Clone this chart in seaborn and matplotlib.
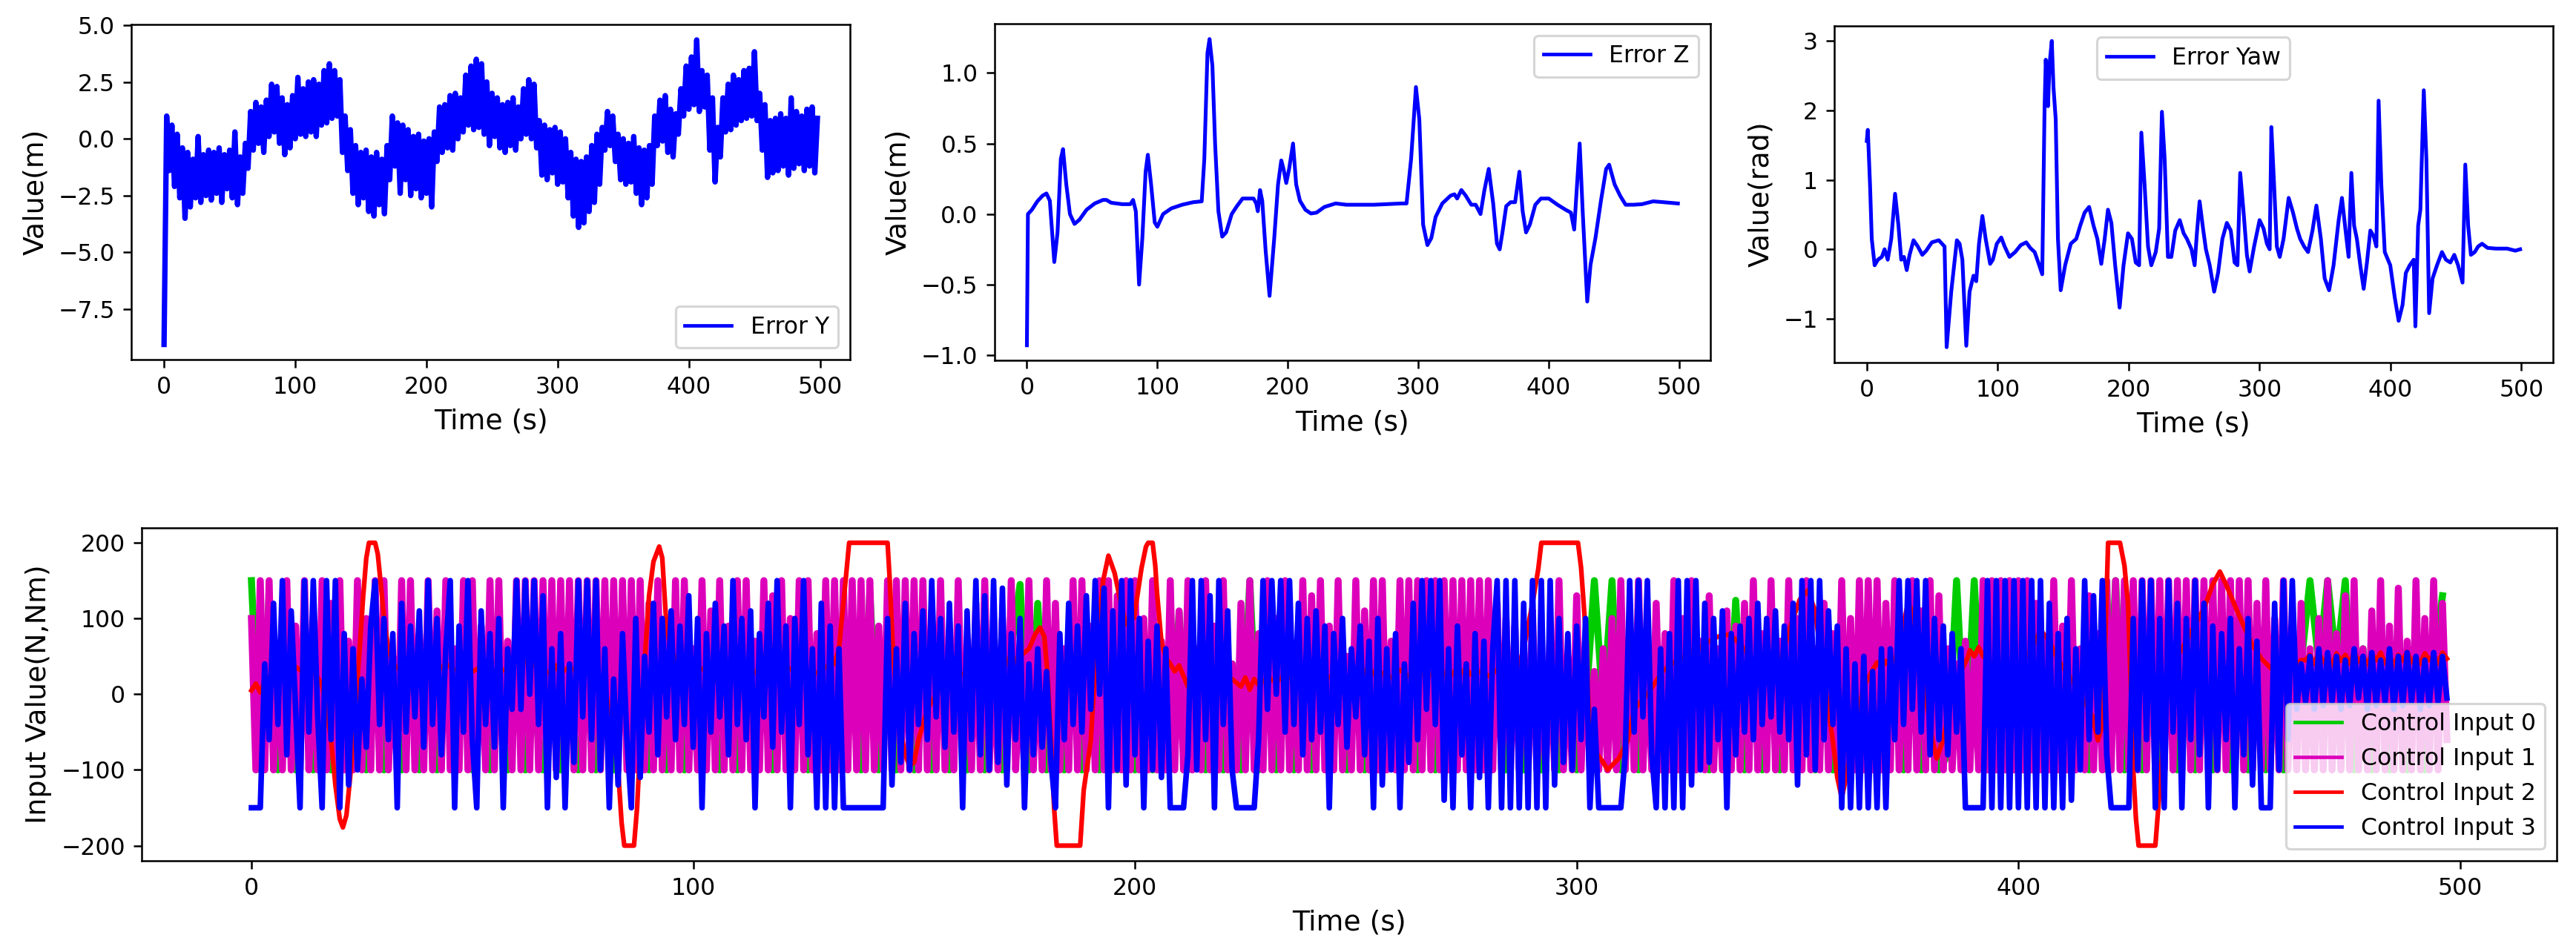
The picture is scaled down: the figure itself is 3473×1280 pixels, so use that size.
import seaborn as sns
import matplotlib.pyplot as plt
import numpy as np

# ---- Error Y (m), sampled every 2 s ----
err_y = [
    -9.05, 1.0, -1.4, 0.6, -2.1, 0.2, -2.6, -0.4, -3.5, -0.6,
    -3.0, -0.9, -2.6, 0.1, -2.8, -0.7, -2.5, -0.5, -2.7, -0.6,
    -2.4, -0.4, -2.8, -0.7, -2.2, -0.5, -2.6, 0.3, -2.9, -0.8,
    -2.4, -0.2, -1.3, 1.2, -0.5, 1.6, -0.2, 1.4, -0.6, 1.7,
    0.1, 2.4, 0.3, 2.3, -0.2, 1.8, -0.7, 1.5, -0.4, 1.9,
    0.0, 2.7, 0.2, 2.2, 0.1, 2.5, 0.3, 2.6, 0.1, 2.4,
    0.6, 3.0, 0.7, 3.3, 0.9, 3.0, 1.0, 2.6, -0.6, 1.0,
    -1.4, 0.4, -2.4, -0.3, -2.9, -0.6, -2.6, -0.5, -3.2, -0.8,
    -3.4, -0.6, -2.9, -0.9, -3.3, -0.3, -1.8, 1.0, -1.2, 0.7,
    -2.4, 0.6, -1.8, 0.4, -2.5, 0.1, -2.2, 0.2, -2.6, -0.1,
    -2.4, 0.0, -3.0, 0.3, -1.0, 1.4, -0.6, 1.5, -0.4, 1.9,
    -0.5, 2.0, 0.0, 1.8, 0.3, 2.8, 0.6, 3.2, 0.4, 3.5,
    0.5, 3.3, 0.2, 2.5, -0.3, 2.0, 0.1, 1.8, -0.4, 1.5,
    -0.6, 1.6, -0.3, 1.8, -0.5, 1.4, 0.0, 2.2, 0.2, 2.6,
    0.0, 2.4, -0.4, 0.8, -1.6, 0.6, -1.8, 0.4, -1.5, 0.5,
    -2.0, 0.3, -1.9, 0.0, -2.6, -0.6, -3.4, -0.9, -3.9, -1.0,
    -3.7, -0.8, -3.2, -0.3, -2.8, 0.2, -2.0, 0.5, -0.5, 1.2,
    -0.3, 1.0, -1.0, 0.2, -1.8, 0.0, -2.0, -0.2, -1.9, 0.1,
    -2.4, -0.4, -2.9, -0.5, -2.6, -0.3, -2.0, 1.0, -0.3, 1.7,
    -0.1, 1.9, -0.6, 1.3, -0.8, 1.1, 0.2, 2.2, 1.0, 3.2,
    1.3, 3.6, 1.5, 4.35, 1.2, 3.0, 1.4, 2.8, -0.5, 1.8,
    -1.9, 0.5, -0.8, 1.8, 0.3, 2.4, 0.4, 2.8, 0.6, 2.6,
    0.8, 3.0, 0.9, 3.1, 1.0, 3.83, 0.8, 2.0, -0.5, 1.5,
    -1.7, 0.8, -1.5, 0.9, -1.4, 1.1, -1.2, 0.9, -1.6, 1.8,
    -1.3, 1.2, -1.1, 1.0, -1.4, 1.3, -1.2, 1.4, -1.5, 0.9,
]
t_err_y = np.arange(len(err_y)) * 2

# ---- Error Z (m) ----
t_err_z = [0, 0.8, 3.8, 8, 12, 15, 17.6, 21, 23.5, 26, 27.7, 30.2, 33, 36.5, 40.3, 45.7, 52, 58.3, 61, 64.6,
           73, 79.3, 81.4, 83.5, 86, 88.5, 91, 92.7, 95.2, 98, 100, 104.4, 110.7, 119, 127.5, 134, 136, 138.4, 140, 142.2,
           144.3, 146.8, 149.7, 152.7, 157, 161, 165.3, 169.5, 173.7, 175.8, 177, 178.7, 180.4, 183, 186, 189.6, 192.5, 195, 196.7, 198.8,
           201, 204, 206.4, 209.3, 213.5, 217.7, 222, 228, 236.6, 245, 266, 287, 291, 294.5, 298.2, 300.8, 303.7, 307, 310, 313.3,
           318.4, 324.7, 327.7, 329.8, 333, 336.4, 340.6, 344, 347.7, 350.7, 354, 357.4, 360.3, 362.4, 364.5, 367.4, 370.8, 374.2, 377.5, 380,
           382.6, 385.5, 389.7, 394, 400, 406.7, 413, 417, 419.5, 421, 423.7, 426, 429.5, 432, 435.8, 440, 444, 446.3, 450.5, 454.7,
           458.9, 465, 471.5, 480, 488, 499]
err_z = [-0.93, 0.0, 0.03, 0.09, 0.13, 0.146, 0.094, -0.34, -0.13, 0.39, 0.46, 0.21, 0.0, -0.07, -0.04, 0.03, 0.075, 0.10, 0.10, 0.08,
         0.07, 0.07, 0.10, 0.02, -0.50, -0.17, 0.30, 0.42, 0.21, -0.06, -0.09, 0.0, 0.04, 0.066, 0.084, 0.09, 0.39, 1.14, 1.24, 1.05,
         0.49, 0.02, -0.16, -0.13, 0.0, 0.056, 0.11, 0.11, 0.11, 0.075, 0.02, 0.17, 0.094, -0.26, -0.58, -0.17, 0.21, 0.38, 0.32, 0.22,
         0.32, 0.50, 0.21, 0.094, 0.03, 0.004, 0.01, 0.05, 0.075, 0.066, 0.066, 0.075, 0.075, 0.39, 0.90, 0.67, -0.075, -0.22, -0.17, -0.02,
         0.075, 0.13, 0.14, 0.11, 0.17, 0.13, 0.066, 0.066, 0.0, 0.17, 0.32, 0.075, -0.21, -0.25, -0.13, 0.056, 0.084, 0.084, 0.30, 0.02,
         -0.13, -0.075, 0.066, 0.11, 0.11, 0.066, 0.03, 0.01, -0.11, 0.11, 0.50, 0.02, -0.62, -0.36, -0.17, 0.094, 0.32, 0.35, 0.21, 0.13,
         0.066, 0.066, 0.07, 0.09, 0.084, 0.075]

# ---- Error Yaw (rad) ----
t_err_yaw = [0, 0.8, 2.5, 3.8, 6, 8.5, 11.5, 13.6, 16, 18.7, 21.6, 24.2, 26.3, 28.4, 30.5, 32.7, 35.7, 39, 42.4, 45.4,
             49.7, 55, 59.4, 61, 64.5, 68.8, 70.9, 73, 76, 78.5, 81.5, 83.6, 85.7, 88.3, 90.8, 94.2, 96.3, 99.3, 102.7, 105.3,
             109, 113.3, 117.6, 121.8, 124.8, 128.2, 131, 134, 135.8, 136.7, 138.4, 139.6, 141.3, 142.6, 144.3, 146, 148.1, 151.5, 155.8, 160,
             163, 166.4, 169.8, 173.2, 176.1, 179.1, 181.7, 184.2, 186.8, 189.7, 193.1, 196.1, 199.5, 202.5, 205.4, 208, 209.7, 212.2, 214.8, 217.3,
             220.7, 223.3, 225.4, 227.5, 230, 232.6, 235.6, 239, 242, 244.5, 248, 250.4, 252.1, 254.2, 256.8, 259, 261.9, 265.3, 268.3, 271.6,
             275, 278, 280.9, 283.1, 285.2, 287.8, 290.3, 292.4, 295.8, 300, 303, 305.6, 307.7, 309, 311.1, 313.2, 315.4, 318.3, 322.2, 325.5,
             328.5, 331, 334, 337, 340.4, 343.4, 346.8, 349.7, 353.1, 356.5, 360.4, 362.9, 365.9, 368, 370.1, 372.2, 374.3, 376.9, 379.5, 382,
             384.6, 387.1, 389.2, 390.9, 393, 395.6, 399.8, 403.2, 406.2, 409.2, 411.7, 414.7, 417.7, 419, 421.1, 422.8, 425.4, 427.4, 429.5, 432.1,
             435.5, 439.3, 442.3, 445.7, 448.7, 451.6, 455, 457.1, 459.3, 461.4, 464.3, 466.9, 469.9, 474.1, 480.5, 489, 495.3, 499]
err_yaw = [1.56, 1.72, 0.92, 0.15, -0.23, -0.15, -0.11, 0.0, -0.15, 0.15, 0.80, 0.34, -0.15, -0.11, -0.30, -0.08, 0.13, 0.04, -0.08, -0.02,
           0.10, 0.13, 0.04, -1.41, -0.61, 0.13, 0.08, -0.15, -1.39, -0.61, -0.38, -0.46, 0.08, 0.48, 0.15, -0.21, -0.15, 0.08, 0.17, 0.04,
           -0.11, -0.04, 0.06, 0.10, 0.02, -0.04, -0.19, -0.36, 2.06, 2.73, 2.06, 2.67, 3.0, 2.33, 1.87, 0.15, -0.59, -0.23, 0.08, 0.15,
           0.34, 0.53, 0.61, 0.34, 0.15, -0.21, 0.15, 0.57, 0.38, -0.23, -0.84, -0.23, 0.23, 0.15, -0.19, -0.23, 1.68, 0.92, 0.04, -0.23,
           -0.04, 0.30, 1.98, 1.30, -0.11, -0.11, 0.27, 0.42, 0.23, 0.15, 0.0, -0.23, 0.23, 0.69, 0.30, 0.0, -0.23, -0.61, -0.34, 0.15,
           0.38, 0.27, -0.19, -0.23, 1.10, 0.53, -0.08, -0.32, 0.04, 0.42, 0.30, 0.08, 0.0, 1.76, 0.92, 0.04, -0.11, 0.15, 0.74, 0.53,
           0.30, 0.15, 0.04, -0.04, 0.27, 0.63, 0.15, -0.42, -0.59, -0.23, 0.42, 0.74, 0.23, -0.11, 1.10, 0.34, 0.15, -0.23, -0.57, -0.19,
           0.27, 0.19, 0.04, 2.14, 0.92, -0.04, -0.23, -0.69, -1.03, -0.80, -0.34, -0.23, -0.15, -1.11, 0.34, 0.57, 2.29, 1.30, -0.92, -0.42,
           -0.23, -0.04, -0.15, -0.19, -0.08, -0.23, -0.48, 1.22, 0.34, -0.08, -0.04, 0.04, 0.08, 0.02, 0.01, 0.01, -0.02, 0.0]

# ---- Control inputs (N, Nm) ----
# input 0, every 2 s
ctrl_0 = [
    150, -100, 130, -100, 20, -100, 40, -100, 0, -100,
    30, -100, 10, -100, 40, -100, 20, -100, 0, -100,
    30, -100, 10, -100, 40, -100, 20, -100, 0, -100,
    30, -100, -20, -100, 10, -100, 0, -100, 20, -100,
    10, -100, 30, -100, 0, -100, 20, -100, 40, -100,
    10, -100, 30, -100, 0, -100, 20, -100, 40, -100,
    10, -100, 30, -100, 0, -100, 20, -100, 100, -100,
    134, -100, 40, -100, 0, -100, 20, -100, 30, -100,
    10, -100, 40, -100, 20, -100, 60, 145, -100, 120,
    -100, 20, -100, 40, -100, 10, -100, 30, -100, 0,
    -100, 20, -100, 40, -100, 108, -100, 30, -100, 10,
    -100, 40, -100, 150, -100, 20, -100, 0, -100, 30,
    -100, 10, -100, 40, -100, 20, -100, 0, -100, 30,
    -100, 10, -100, 40, -100, 20, -100, 0, -100, 30,
    -100, 10, -100, 40, -100, 20, -100, 0, -100, 30,
    -100, -20, 150, -20, 150, -100, 30, -100, 10, -100,
    40, -100, 20, -100, 0, -100, 30, -100, 124, -100,
    110, -100, 40, -100, 20, -100, 0, -100, 30, -100,
    10, -100, 40, -100, 20, -100, 0, -100, 30, -100,
    10, -100, -80, 150, -80, 150, -80, -100, 20, -100,
    40, -100, -100, -10, -100, 0, -100, 20, -100, -20,
    -100, 150, -100, 40, -100, -20, -100, 20, -100, 30,
    -100, 10, -100, 40, -100, 20, -100, 0, -100, 30,
    -100, 40, 40, 150, 40, 150, 40, 150, -100, 60,
    -100, 40, -100, 60, -100, 50, -100, 40, 130,
]
t_ctrl_0 = np.arange(len(ctrl_0)) * 2

# input 1, every 1 s
ctrl_1 = [
    100, -100, 150, -100, 150, -100, 60, -100, 150, -100,
    90, -100, 150, -100, 40, -100, 150, -100, 120, -100,
    150, -100, 70, -100, 150, -100, 100, -100, 150, -100,
    150, -100, 50, -100, 150, -100, 150, -100, 80, -100,
    150, -100, 110, -100, 150, -100, 60, -100, 150, -100,
    150, -100, 90, -100, 150, -100, 150, -100, 70, -100,
    150, -100, 150, -100, 150, -100, 150, -100, 150, -100,
    150, -100, 150, -100, 150, -100, 150, -100, 150, -100,
    150, -100, 150, -100, 150, -100, 150, -100, 150, -100,
    120, -100, 150, -100, 80, -100, 150, -100, 150, -100,
    60, -100, 150, -100, 110, -100, 150, -100, 90, -100,
    150, -100, 150, -100, 70, -100, 150, -100, 130, -100,
    150, -100, 100, -100, 150, -100, 150, -100, 80, -100,
    150, -100, 150, -100, 150, -100, 150, -100, 150, -100,
    150, -100, 90, -100, 150, -100, 150, -100, 150, -100,
    150, -100, 150, -100, 110, -100, 150, -100, 70, -100,
    150, -100, 50, -100, 120, -100, 150, -100, 60, -100,
    100, -100, 150, -100, 40, -100, 150, -100, 80, -100,
    150, -100, 120, -100, 60, -100, 150, -100, 150, -100,
    90, -100, 150, -100, 150, -100, 130, -100, 150, -100,
    150, -100, 100, -100, 150, -100, 70, -100, 150, -100,
    110, -100, 150, -100, 60, -100, 150, -100, 90, -100,
    150, -100, 40, -100, 120, -100, 150, -100, 80, -100,
    150, -100, 100, -100, 150, -100, 60, -100, 150, -100,
    130, -100, 150, -100, 90, -100, 150, -100, 50, -100,
    150, -100, 110, -100, 150, -100, 150, -100, 70, -100,
    150, -100, 150, -100, 150, -100, 150, -100, 150, -100,
    150, -100, 150, -100, 150, -100, 150, -100, 150, -100,
    150, -100, 120, -100, 100, -100, 90, -100, 60, -100,
    110, -100, 40, -100, 80, -100, 150, -100, 50, -100,
    130, -100, 70, -100, 30, -100, 60, -100, 100, -100,
    150, -100, 90, -100, 150, -100, 60, -100, 120, -100,
    80, -100, 150, -100, 100, -100, 150, -100, 70, -100,
    130, -100, 60, -100, 110, -100, 90, -100, 120, -100,
    150, -100, 80, -100, 150, -100, 70, -100, 150, -100,
    100, -100, 150, -100, 60, -100, 120, -100, 80, -100,
    150, -100, 100, -100, 150, -100, 150, -100, 150, -100,
    120, -100, 150, -100, 90, -100, 150, -100, 110, -100,
    150, -100, 130, -100, 60, -100, 40, -100, 70, -100,
    50, -100, 150, -100, 150, -100, 150, -100, 150, -100,
    150, -100, 150, -100, 120, -100, 70, -100, 150, -100,
    90, -100, 150, -100, 60, -100, 130, -100, 80, -100,
    150, -100, 150, -100, 150, -100, 150, -100, 150, -100,
    150, -100, 150, -100, 150, -100, 150, -100, 150, -100,
    150, -100, 150, -100, 150, -100, 150, -100, 150, -100,
    150, -100, 150, -100, 120, -100, 150, -100, 100, -100,
    150, -100, 70, -100, 120, -100, 60, -100, 100, -100,
    150, -100, 80, -100, 130, -100, 150, -100, 60, -100,
    110, -100, 150, -100, 90, -100, 140, -100, 70, -100,
    150, -100, 100, -100, 150, -100, 120, -60,
]
t_ctrl_1 = np.arange(len(ctrl_1))

# input 2, irregular samples
t_ctrl_2 = [0, 1, 2, 3, 4, 5, 6, 7, 8, 10, 12, 14, 16, 17, 18, 19, 20, 20.7, 21.5, 22.5,
            23.5, 24.5, 25.3, 26, 26.6, 28, 28.6, 29.2, 30.2, 31, 32, 34, 36, 38, 40, 42, 44, 46, 48, 50,
            52, 54, 56, 58, 60, 61, 62, 63, 64, 66, 68, 69, 70, 72, 74, 75, 76, 78, 80, 81,
            82, 83, 83.8, 84.4, 86.6, 87.3, 88.3, 89.2, 90, 91, 92.3, 93, 94, 95, 96, 98, 100, 102, 104, 106,
            108, 110, 112, 114, 116, 118, 120, 122, 124, 126, 128, 130, 132, 133, 134.5, 135.3, 144, 144.5, 145.2, 146,
            147, 148, 149, 150, 151, 153, 156, 160, 163, 166, 168, 170, 171, 172, 173, 174, 176, 177.5, 178.5, 179.5,
            180.3, 181, 181.7, 182.3, 187.6, 188.4, 190, 191, 192.8, 194, 195.4, 197, 198, 199.8, 200.8, 201.5, 202.5, 203, 204, 204.6,
            205, 206, 207, 208, 209, 210, 211, 212, 214, 216, 218, 220, 222, 224, 225, 226, 227, 228, 230, 232,
            234, 236, 238, 240, 242, 244, 246, 248, 250, 251, 252, 253, 254, 255, 256, 258, 260, 262, 264, 266,
            268, 270, 271, 272, 273, 274, 275, 276, 278, 280, 282, 283, 284, 285, 286, 287, 288, 290, 291.3, 292,
            300.3, 301, 302, 302.8, 304.5, 306, 307, 308, 309.5, 311.5, 313, 316.4, 319.4, 322, 324, 326, 328, 330, 332, 334.4,
            336, 338, 340, 341.4, 342, 343, 344, 346, 348.4, 350.5, 352.3, 354, 355.5, 357, 358, 359, 360, 361, 363, 365,
            367, 368, 369, 370, 371, 372, 373.5, 375, 376, 377.5, 379, 380.5, 381.5, 383, 385, 387, 388.5, 389, 390, 391,
            392, 393, 396, 400, 403, 405, 407, 409, 412, 415, 416.8, 418, 419, 419.6, 420.3, 423, 424, 424.8, 425.5, 426,
            426.6, 427.2, 431, 432.3, 433, 434, 436, 438, 440, 442, 444, 445.6, 447, 449, 451, 453, 455, 457, 459, 461,
            463, 464, 465, 466, 467, 468, 469, 470, 471, 472, 473, 474, 475, 476, 477, 478, 479, 480, 481, 482,
            483, 484, 485, 486, 487, 488, 489, 490, 491, 492, 493, 494, 495, 496, 497]
ctrl_2 = [5, 14, 2, 18, 22, 34, 26, 38, 30, 36, 28, 32, 12, -20, -60, -120, -165, -176, -160, -100,
          -20, 60, 130, 180, 200, 200, 185, 150, 90, 60, 40, 30, 38, 28, 36, 30, 40, 32, 38, 30,
          36, 28, 34, 30, 44, 36, 46, 34, 40, 32, 26, 38, 28, 36, 28, 36, 30, 24, 10, -20,
          -60, -100, -170, -200, -200, -150, -30, 60, 130, 175, 195, 180, 85, 60, 45, 32, 26, 34, 24, 32,
          26, 34, 24, 30, 22, 32, 26, 34, 24, 30, 28, 36, 40, 60, 150, 200, 200, 150, 60, 0,
          -50, -80, -95, -90, -60, -20, 10, 25, 30, 35, 42, 52, 40, 54, 42, 50, 60, 80, 88, 76,
          20, -62, -150, -200, -200, -127, -62, 36, 150, 183, 160, 115, 92, 101, 140, 167, 195, 200, 200, 170,
          134, 69, 48, 40, 30, 38, 24, 10, 18, 12, 22, 14, 20, 10, 22, 6, 20, 12, 22, 16,
          26, 18, 28, 20, 28, 22, 30, 22, 30, 20, 32, 22, 30, 20, 28, 22, 32, 24, 30, 22,
          30, 24, 34, 26, 36, 28, 34, 26, 30, 24, 32, 26, 34, 26, 32, 40, 60, 120, 165, 200,
          200, 167, 85, -29, -78, -90, -100, -94, -85, -62, -20, 3, 30, 42, 49, 56, 62, 70, 76, 79,
          72, 59, 42, 33, 38, 28, 34, 40, 90, 125, 137, 110, 40, -20, -62, -110, -137, -110, -40, 10,
          32, 42, 34, 44, 36, 42, 80, 120, 110, 40, -3, -60, -85, -60, 0, 30, 48, 58, 50, 62,
          50, 45, 40, 38, 60, 85, 70, 45, 20, -10, -30, -61, -40, 60, 200, 200, 170, 120, 0, -100,
          -164, -200, -200, -102, -40, 22, 50, 70, 92, 113, 145, 162, 145, 117, 90, 65, 47, 35, 26, 30,
          40, 45, 45, 52, 40, 55, 42, 50, 38, 54, 44, 52, 40, 56, 43, 50, 39, 53, 45, 55,
          41, 50, 38, 52, 44, 56, 42, 50, 40, 54, 45, 52, 41, 55, 47]

# input 3, every 1 s
ctrl_3 = [
    -150, -150, -150, 40, -60, 120, -40, 150, -80, 110,
    -20, -150, 150, -50, 150, -30, -150, 150, -60, 150,
    -150, 80, -120, 60, -100, 20, -70, 90, 150, -40,
    100, -60, 80, -150, 120, -50, 90, -30, 110, -70,
    150, -40, 100, -80, 60, 150, -150, 90, -50, 150,
    -60, -150, 110, -40, 80, -70, 100, -150, 60, -20,
    150, -20, 150, 0, 150, -40, 130, -150, 60, -110,
    80, -150, 40, -90, 150, -30, 150, -60, 150, -100,
    60, -150, 20, -120, 80, -60, -150, 100, -110, 50,
    -50, 120, -80, 100, -30, 110, -60, 90, -40, 130,
    -70, 100, -150, 80, -50, 120, -30, 90, -80, 150,
    -40, 100, -60, 110, -150, 80, -30, 120, -70, 150,
    -50, 90, -150, 100, -40, 150, -80, 60, -150, 120,
    -150, 90, -150, 60, -150, -150, -150, -150, -150, -150,
    -150, -150, -150, -150, 100, -120, 60, -90, 120, -100,
    80, -40, 110, -60, 150, -30, 100, -70, 120, -50,
    90, -150, 110, -60, 150, -80, 130, -100, 150, -90,
    140, -120, 80, -60, 100, -150, 40, -80, 60, -70,
    30, -90, -150, 80, -60, 120, -40, 90, -50, 130,
    -20, 150, 0, 140, -150, 110, -100, 150, -120, 150,
    -80, 100, -150, 70, -100, 90, -110, 60, -150, -150,
    -150, -150, -80, 150, -100, 150, -60, 130, -150, 150,
    -40, 110, -100, -150, -150, -150, -150, -150, -60, 150,
    -20, 150, 0, 150, -50, 150, -40, 120, -80, 100,
    -60, 110, -50, 90, -150, 80, -40, 100, -70, 60,
    -30, 90, -80, 70, -150, 100, -120, 60, -100, 80,
    -150, 40, -90, 120, -60, 150, -20, 150, -40, 150,
    -140, 60, -150, 90, -80, 40, -150, 80, -110, 70,
    -150, 60, 150, -150, 150, -150, 150, -150, 120, -150,
    150, -150, 150, -150, 150, -120, 100, -90, 80, -100,
    90, -60, 100, -150, -20, -150, -150, -150, -150, -150,
    -150, -80, 150, -50, 150, -30, 150, -80, -150, 60,
    -150, 80, -150, 150, -150, 150, -120, 150, -100, 120,
    -90, 100, -60, 110, -150, 80, -80, 90, -50, 100,
    -60, 120, -40, 100, -30, 110, -50, 90, -60, 120,
    -120, 150, -80, 150, -100, 150, -60, 110, -40, 90,
    -150, 60, -150, 40, -150, 50, -150, 30, -150, 60,
    -150, 60, -60, 150, -40, 150, -20, 150, -50, 150,
    -80, 100, -60, 90, -80, 80, -50, 60, -150, -150,
    -150, -150, -150, 150, -150, 150, -150, 150, -150, 150,
    -150, 150, -150, 150, -150, 150, -150, 120, -150, 80,
    -150, 100, -140, 60, -100, 150, -60, 130, -50, 150,
    -80, -150, -150, -150, -150, -150, 100, -100, 150, -60,
    150, -150, 100, -150, 150, -50, 120, -150, 100, -60,
    150, -80, 120, -150, 90, -100, 80, -60, 100, -150,
    60, -80, 100, -120, 70, -150, -150, -150, 120, -100,
    150, -60, 150, -20, 40, -10, 50, -20, 60, -15,
    55, -10, 50, -20, 45, -15, 60, -5, 50, -20,
    55, -15, 45, -10, 60, -20, 50, -15, 55, -10,
    50, -20, 45, -15, 55, -10, 50, -5,
]
t_ctrl_3 = np.arange(len(ctrl_3))


def thin_legend(ax, loc):
    leg = ax.legend(loc=loc)
    for h in leg.get_lines():
        h.set_linewidth(1.5)
    return leg


fig = plt.figure(figsize=(3473 / 227, 1280 / 227), dpi=227)
ax1 = fig.add_axes([0.051, 0.621, 0.279, 0.353])
ax2 = fig.add_axes([0.386, 0.620, 0.278, 0.355])
ax3 = fig.add_axes([0.712, 0.618, 0.279, 0.355])
ax4 = fig.add_axes([0.055, 0.093, 0.9375, 0.351])

sns.lineplot(x=t_err_y, y=err_y, ax=ax1, color='blue', linewidth=2.3, label='Error Y', estimator=None, sort=False)
thin_legend(ax1, 'lower right')
ax1.set_xlabel('Time (s)', fontsize=12)
ax1.set_ylabel('Value(m)', fontsize=12)

sns.lineplot(x=t_err_z, y=err_z, ax=ax2, color='blue', linewidth=1.6, label='Error Z', estimator=None, sort=False)
thin_legend(ax2, 'upper right')
ax2.set_xlabel('Time (s)', fontsize=12)
ax2.set_ylabel('Value(m)', fontsize=12)

sns.lineplot(x=t_err_yaw, y=err_yaw, ax=ax3, color='blue', linewidth=1.6, label='Error Yaw', estimator=None, sort=False)
thin_legend(ax3, 'upper center')
ax3.set_xlabel('Time (s)', fontsize=12)
ax3.set_ylabel('Value(rad)', fontsize=12)

sns.lineplot(x=t_ctrl_0, y=ctrl_0, ax=ax4, color='#00cc00', linewidth=3.0, label='Control Input 0', estimator=None, sort=False)
sns.lineplot(x=t_ctrl_1, y=ctrl_1, ax=ax4, color='#dd00bb', linewidth=3.0, label='Control Input 1', estimator=None, sort=False)
sns.lineplot(x=t_ctrl_2, y=ctrl_2, ax=ax4, color='red', linewidth=2.0, label='Control Input 2', estimator=None, sort=False)
sns.lineplot(x=t_ctrl_3, y=ctrl_3, ax=ax4, color='blue', linewidth=2.4, label='Control Input 3', estimator=None, sort=False)
thin_legend(ax4, 'lower right')
ax4.set_xlabel('Time (s)', fontsize=12)
ax4.set_ylabel('Input Value(N,Nm)', fontsize=12)

for ax in [ax1, ax2, ax3]:
    ax.set_xticks([0, 100, 200, 300, 400, 500])

fig.savefig('out.png', dpi=227)
